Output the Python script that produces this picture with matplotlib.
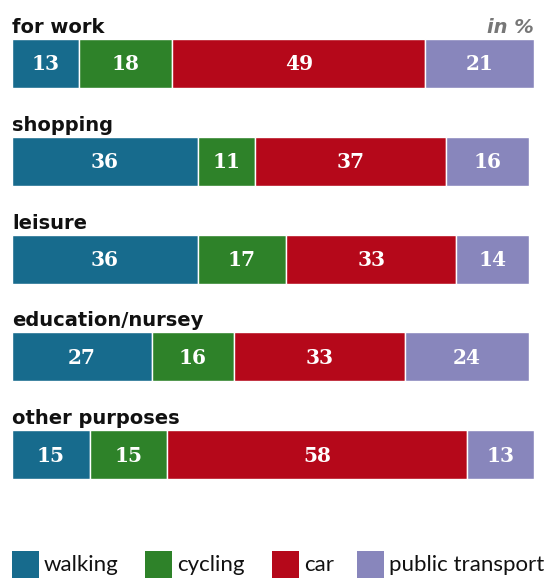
import matplotlib.pyplot as plt
from matplotlib.patches import Rectangle

purposes = ['for work', 'shopping', 'leisure', 'education/nursey', 'other purposes']
modes = ['walking', 'cycling', 'car', 'public transport']
walking = [13, 36, 36, 27, 15]
cycling = [18, 11, 17, 16, 15]
car = [49, 37, 33, 33, 58]
public = [21, 16, 14, 24, 13]
colors = ['#176b8d', '#2e8229', '#b5081a', '#8886bc']

W, H = 544, 578
fig = plt.figure(figsize=(W / 100, H / 100), dpi=100)
# x in percent, y in pixels from top
ax = fig.add_axes([12 / W, 0, 522 / W, 1])
ax.set_xlim(0, 101)
ax.set_ylim(H, 0)
ax.axis('off')

top0 = 39      # top of first bar
step = 97.8    # row spacing
bh = 49        # bar height

series = [walking, cycling, car, public]
for i, name in enumerate(purposes):
    yc = top0 + i * step + bh / 2
    left = 0
    for vals, col in zip(series, colors):
        v = vals[i]
        ax.barh(yc, v, left=left, height=bh, color=col, edgecolor='white', linewidth=1)
        ax.text(left + v / 2, yc + 1, str(v), ha='center', va='center', color='white',
                fontsize=14.5, fontweight='bold', family='DejaVu Serif')
        left += v
    ax.text(0, yc - bh / 2 - 6, name, ha='left', va='baseline', fontsize=14,
            fontweight='bold', color='#111111')

ax.text(101, top0 - 6, 'in %', ha='right', va='baseline', fontsize=14,
        fontweight='bold', style='italic', color='#777777')

# legend row drawn by hand (pixel positions of each key)
key_x = [12, 145, 272, 357]
for x, c, m in zip(key_x, colors, modes):
    fig.add_artist(Rectangle((x / W, 0), 27 / W, 27 / H, transform=fig.transFigure,
                             facecolor=c, edgecolor='none'))
    fig.text((x + 32) / W, 13 / H, m, ha='left', va='center', fontsize=16,
             family='Lato', color='#111111')

fig.savefig('out.png', dpi=100)
